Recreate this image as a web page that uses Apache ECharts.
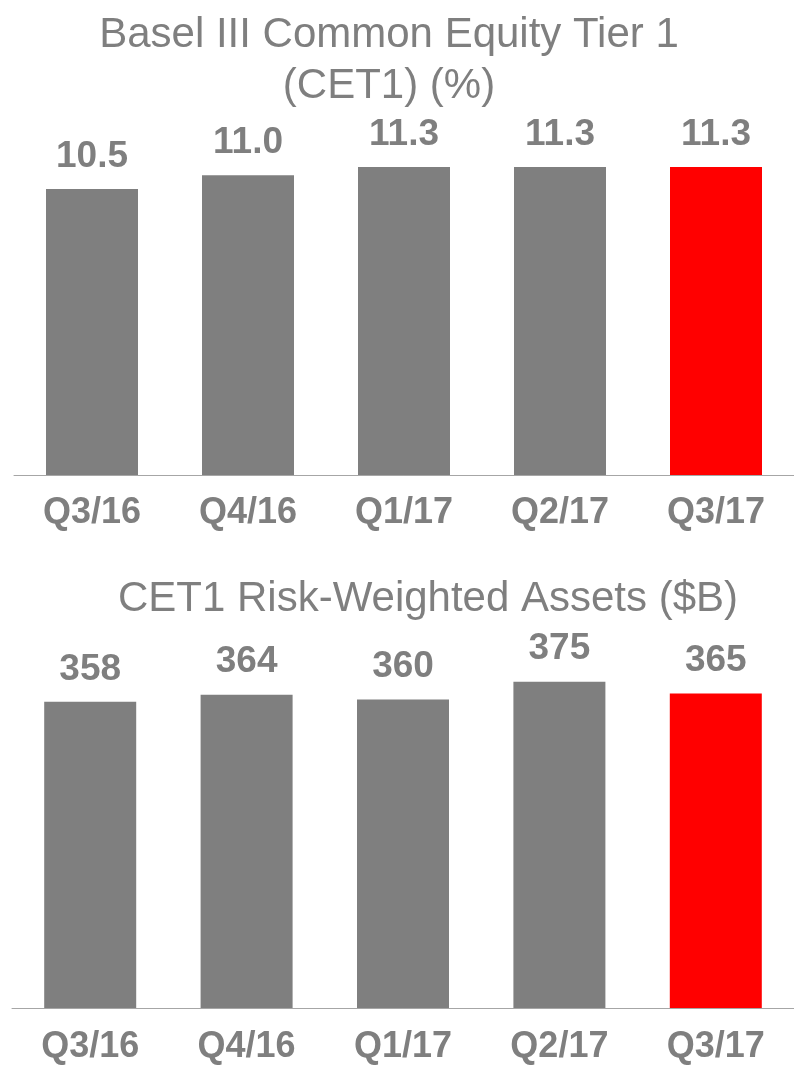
<!DOCTYPE html>
<html>
<head>
<meta charset="utf-8">
<script src="https://cdn.jsdelivr.net/npm/echarts@6/dist/echarts.min.js"></script>
<style>
  html, body { margin: 0; padding: 0; background: #fff; }
  #capitalChart { width: 794px; height: 1065px; }
</style>
</head>
<body>
<div id="capitalChart"></div>
<script>
const quarters = ['Q3/16', 'Q4/16', 'Q1/17', 'Q2/17', 'Q3/17'];
const cet1Ratio = [10.5, 11.0, 11.3, 11.3, 11.3];
const cet1Rwa = [358, 364, 360, 375, 365];

const GRAY = '#7f7f7f';
const RED = '#ff0000';
const FONT = "'Liberation Sans', Arial, sans-serif";

const chartDom = document.getElementById('capitalChart');
const capitalChart = echarts.init(chartDom);

// last quarter is highlighted in red
const barColor = (p) => (p.dataIndex === quarters.length - 1 ? RED : GRAY);

const xAxisFor = (gridIndex, margin) => ({
    gridIndex: gridIndex,
    type: 'category',
    data: quarters,
    axisLine: { lineStyle: { color: '#a6a6a6', width: 1 } },
    axisTick: { length: 11, lineStyle: { color: '#d0d0d0', width: 1 } },
    axisLabel: {
        color: GRAY,
        fontSize: 36,
        fontWeight: 'bold',
        fontFamily: FONT,
        margin: margin
    }
});

const valueLabel = (fmt) => ({
    show: true,
    position: 'top',
    distance: 14,
    color: GRAY,
    fontSize: 37,
    fontWeight: 'bold',
    fontFamily: FONT,
    formatter: fmt
});

const options = {
    animation: false,
    title: [{
        text: 'Basel III Common Equity Tier 1\n(CET1) (%)',
        left: 384,
        top: 5,
        textAlign: 'center',
        textStyle: { color: GRAY, fontSize: 42, fontWeight: 'normal', fontFamily: FONT, lineHeight: 51 }
    }, {
        text: 'CET1 Risk-Weighted Assets ($B)',
        left: 423,
        top: 569,
        textAlign: 'center',
        textStyle: { color: GRAY, fontSize: 42, fontWeight: 'normal', fontFamily: FONT, lineHeight: 50 }
    }],
    grid: [
        { left: 14, width: 786, top: 148, height: 327 },
        { left: 12, width: 786, top: 652, height: 360 }
    ],
    xAxis: [xAxisFor(0, 20), xAxisFor(1, 21)],
    yAxis: [
        { gridIndex: 0, type: 'value', min: 0, max: 12, show: false },
        { gridIndex: 1, type: 'value', min: 100, max: 400, show: false }
    ],
    series: [{
        name: 'CET1 ratio',
        type: 'bar',
        xAxisIndex: 0,
        yAxisIndex: 0,
        barWidth: 92,
        data: cet1Ratio,
        itemStyle: { color: barColor },
        label: valueLabel((p) => p.value.toFixed(1))
    }, {
        name: 'CET1 RWA',
        type: 'bar',
        xAxisIndex: 1,
        yAxisIndex: 1,
        barWidth: 92,
        data: cet1Rwa,
        itemStyle: { color: barColor },
        label: valueLabel((p) => String(p.value))
    }]
};

capitalChart.setOption(options);
</script>
</body>
</html>
